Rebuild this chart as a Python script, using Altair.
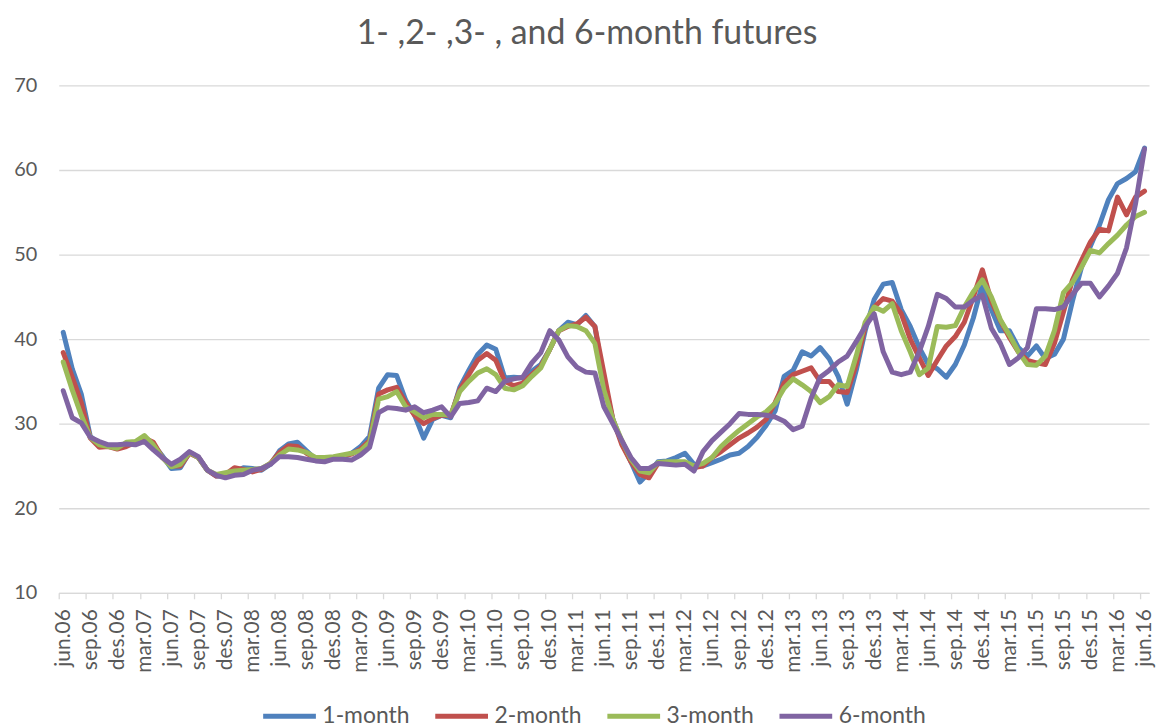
import json
import altair as alt
import pandas as pd

# Tick labels (every third month, jun.06 .. jun.16)
tick_labels = [
    "jun.06", "sep.06", "des.06", "mar.07", "jun.07", "sep.07", "des.07",
    "mar.08", "jun.08", "sep.08", "des.08", "mar.09", "jun.09", "sep.09",
    "des.09", "mar.10", "jun.10", "sep.10", "des.10", "mar.11", "jun.11",
    "sep.11", "des.11", "mar.12", "jun.12", "sep.12", "des.12", "mar.13",
    "jun.13", "sep.13", "des.13", "mar.14", "jun.14", "sep.14", "des.14",
    "mar.15", "jun.15", "sep.15", "des.15", "mar.16", "jun.16",
]

series_names = ["1-month", "2-month", "3-month", "6-month"]

one_month = [
    40.8, 36.5, 33.5, 28.5, 27.6, 27.4, 27.2, 27.5, 27.8, 28.2,
    27.5, 26.2, 24.7, 24.8, 26.6, 26.0, 24.5, 23.8, 23.8, 24.3,
    24.8, 24.7, 24.5, 25.2, 26.8, 27.6, 27.8, 26.8, 25.8, 26.0,
    26.0, 26.0, 26.5, 27.3, 28.5, 34.2, 35.8, 35.7, 32.8, 31.0,
    28.3, 30.5, 31.0, 30.7, 34.3, 36.3, 38.2, 39.3, 38.8, 35.4,
    35.5, 35.4, 36.2, 37.0, 38.8, 41.0, 42.0, 41.7, 42.8, 41.5,
    35.0, 30.5, 27.8, 25.5, 23.1, 24.2, 25.5, 25.6, 26.0, 26.5,
    25.2, 25.0, 25.4, 25.8, 26.3, 26.5, 27.3, 28.4, 29.8, 31.5,
    35.6, 36.3, 38.5, 38.0, 39.0, 37.7, 35.6, 32.3, 36.3, 41.0,
    44.7, 46.5, 46.7, 43.5, 41.5, 39.0, 37.0, 36.5, 35.5, 37.0,
    39.3, 42.5, 46.5, 43.5, 41.0, 41.0, 39.0, 38.0, 39.2, 37.7,
    38.2, 40.0, 44.5, 48.5, 51.0, 53.5, 56.5, 58.4, 59.0, 59.8,
    62.6,
]

two_month = [
    38.4, 35.5, 32.5, 28.3, 27.2, 27.3, 27.0, 27.3, 27.8, 28.3,
    27.8, 26.0, 25.0, 25.0, 26.5, 26.0, 24.5, 23.8, 24.0, 24.8,
    24.6, 24.3, 24.6, 25.3, 26.6, 27.4, 27.3, 26.5, 25.9, 26.0,
    26.0, 26.2, 26.4, 27.0, 28.0, 33.5, 34.0, 34.3, 32.5, 31.0,
    30.0, 30.6, 31.0, 31.0, 34.0, 35.8, 37.5, 38.3, 37.5, 35.0,
    34.5, 34.8, 35.8, 36.8, 38.8, 41.0, 41.5, 41.8, 42.6, 41.5,
    36.0, 30.5, 27.5, 25.5, 24.0, 23.6, 25.3, 25.4, 25.2, 25.2,
    24.8, 25.0, 26.0, 26.7, 27.5, 28.3, 28.9, 29.6, 30.5, 32.5,
    34.8, 35.8, 36.2, 36.6, 35.0, 35.0, 33.8, 33.7, 37.0, 41.5,
    43.8, 44.8, 44.5, 43.0, 40.0, 37.8, 35.7, 37.5, 39.2, 40.3,
    42.0, 45.0, 48.2, 44.5, 42.2, 40.2, 38.5, 37.5, 37.2, 37.0,
    39.5, 43.2, 47.0, 49.3, 51.5, 53.0, 52.8, 56.8, 54.7, 56.8,
    57.5,
]

three_month = [
    37.3, 34.0, 31.0, 28.4, 27.5, 27.3, 27.1, 27.8, 27.9, 28.6,
    27.5, 26.0, 24.9, 25.2, 26.6, 26.0, 24.5, 24.0, 24.2, 24.4,
    24.5, 24.6, 24.7, 25.3, 26.3, 27.0, 26.9, 26.6, 26.0, 26.0,
    26.1, 26.3, 26.5, 26.8, 27.8, 32.9, 33.2, 33.8, 32.0, 31.4,
    30.7, 31.1, 31.1, 31.0, 33.8, 35.0, 36.0, 36.5, 35.8, 34.2,
    34.0, 34.5, 35.6, 36.6, 38.8, 41.0, 41.6, 41.5, 41.0, 39.5,
    34.0, 30.5, 28.0, 25.8, 24.4, 24.2, 25.4, 25.5, 25.5, 25.5,
    25.0, 25.3, 26.0, 27.3, 28.3, 29.2, 30.0, 30.8, 31.4, 32.4,
    34.2, 35.3, 34.6, 33.8, 32.5, 33.2, 34.6, 34.4, 38.0, 42.0,
    43.8, 43.3, 44.2, 41.0, 38.5, 35.8, 36.6, 41.5, 41.4, 41.6,
    43.8, 45.6, 47.0, 45.0, 42.3, 40.5, 38.5, 37.0, 36.9, 38.0,
    41.0, 45.5, 46.7, 48.5, 50.5, 50.2, 51.3, 52.3, 53.5, 54.5,
    55.0,
]

six_month = [
    33.9, 30.7, 30.1, 28.4, 27.9, 27.5, 27.5, 27.6, 27.5, 27.9,
    26.9, 26.0, 25.2, 25.8, 26.7, 26.1, 24.5, 23.9, 23.6, 23.9,
    24.0, 24.5, 24.7, 25.2, 26.1, 26.1, 26.0, 25.8, 25.6, 25.5,
    25.8, 25.8, 25.7, 26.3, 27.2, 31.3, 31.9, 31.8, 31.6, 32.0,
    31.3, 31.6, 32.0, 30.8, 32.4, 32.5, 32.7, 34.2, 33.8, 35.0,
    35.3, 35.5, 37.2, 38.4, 41.0, 39.9, 37.9, 36.7, 36.1, 36.0,
    32.0, 30.0, 28.0, 26.0, 24.7, 24.7, 25.3, 25.2, 25.1, 25.2,
    24.4, 26.7, 28.0, 29.0, 30.0, 31.2, 31.1, 31.1, 31.0, 30.8,
    30.3, 29.3, 29.7, 33.0, 35.5, 36.3, 37.3, 38.0, 39.7, 41.5,
    43.0, 38.5, 36.1, 35.8, 36.1, 38.5, 41.5, 45.3, 44.8, 43.8,
    43.8, 44.6, 45.2, 41.3, 39.5, 37.0, 37.8, 39.0, 43.6, 43.6,
    43.5, 43.8, 45.3, 46.6, 46.6, 45.0, 46.3, 47.8, 50.8, 56.0,
    62.5,
]

series_values = [one_month, two_month, three_month, six_month]
colors = ["#4F81BD", "#C0504D", "#9BBB59", "#8064A2"]

rows = []
for name, vals in zip(series_names, series_values):
    for i, v in enumerate(vals):
        rows.append({"idx": i, "value": v, "series": name})
df = pd.DataFrame(rows)

FONT = "Lato"
GREY = "#595959"
GRID = "#D9D9D9"

label_expr = json.dumps(tick_labels) + "[round(datum.value / 3)]"

chart = (
    alt.Chart(df)
    .mark_line(strokeWidth=5, strokeJoin="round", strokeCap="round")
    .encode(
        x=alt.X(
            "idx:Q",
            scale=alt.Scale(domain=[-0.5, 120.5], nice=False, zero=False),
            axis=alt.Axis(
                title=None,
                values=list(range(0, 121, 3)),
                labelExpr=label_expr,
                labelAngle=270,
                labelAlign="right",
                labelBaseline="middle",
                labelFontSize=21,
                labelColor=GREY,
                labelFont=FONT,
                labelPadding=10,
                labelOverlap=False,
                tickOffset=-4.5,
                labelOffset=4.5,
                tickColor=GRID,
                tickSize=6,
                tickWidth=1.3,
                domainColor=GRID,
                domainWidth=1.3,
                grid=False,
            ),
        ),
        y=alt.Y(
            "value:Q",
            scale=alt.Scale(domain=[10, 70], nice=False, zero=False),
            axis=alt.Axis(
                title=None,
                values=[10, 20, 30, 40, 50, 60, 70],
                labelFontSize=20,
                labelColor=GREY,
                labelFont=FONT,
                labelPadding=22,
                ticks=False,
                domain=False,
                grid=True,
                gridColor=GRID,
                gridWidth=1.3,
            ),
        ),
        color=alt.Color(
            "series:N",
            scale=alt.Scale(domain=series_names, range=colors),
            legend=alt.Legend(
                title=None,
                orient="none",
                direction="horizontal",
                legendX=203,
                legendY=605,
                symbolType="stroke",
                symbolSize=2809,
                symbolStrokeWidth=5,
                labelFontSize=23,
                labelFont=FONT,
                labelColor=GREY,
                labelOffset=4,
                columnPadding=15,
            ),
        ),
        order=alt.Order("idx:Q"),
    )
    .properties(
        width=1096,
        height=510,
        title=alt.TitleParams(
            text="1- ,2- ,3- , and 6-month futures",
            fontSize=34,
            font=FONT,
            fontWeight="normal",
            color=GREY,
            anchor="middle",
            offset=25,
            dx=-17,
        ),
        autosize=alt.AutoSizeParams(type="none"),
        padding={"left": 51, "top": 76, "right": 8, "bottom": 130},
    )
    .configure_view(stroke=None)
)

chart.save("out.html", embed_options={"renderer": "svg", "actions": False})
